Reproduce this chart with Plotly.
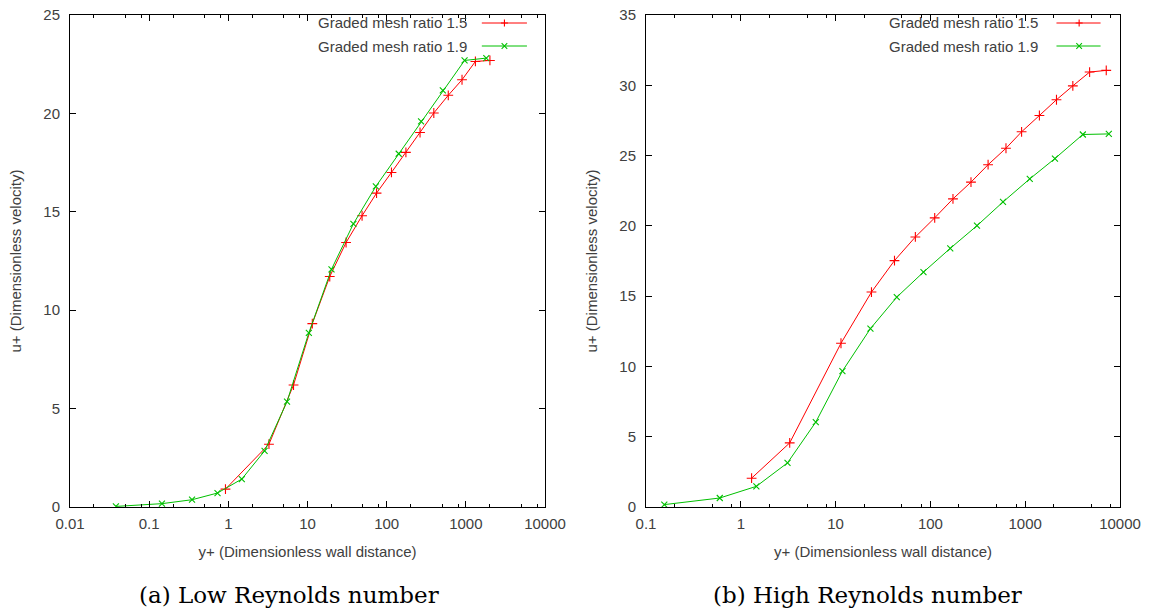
import plotly.graph_objects as go

# ---------------- data ----------------
# (a) Low Reynolds number
lo_r_x = [0.92, 3.26, 6.66, 11.5, 19.1, 30.7, 48.9, 74.5, 115, 175, 264, 394, 600, 895, 1321, 2015]
lo_r_y = [0.91, 3.19, 6.20, 9.32, 11.71, 13.44, 14.80, 15.95, 17.0, 18.02, 19.03, 20.02, 20.92, 21.71, 22.64, 22.69]
lo_g_x = [0.038, 0.145, 0.348, 0.73, 1.48, 2.87, 5.51, 10.4, 20.1, 38, 73, 142, 272, 512, 964, 1815]
lo_g_y = [0.03, 0.17, 0.37, 0.71, 1.42, 2.85, 5.35, 8.85, 12.08, 14.39, 16.29, 17.95, 19.59, 21.17, 22.69, 22.81]
# (b) High Reynolds number
hi_r_x = [1.30, 3.28, 11.4, 23.9, 41.8, 69.4, 111, 173, 268, 406, 627, 916, 1412, 2138, 3180, 4780, 7160]
hi_r_y = [2.05, 4.56, 11.65, 15.29, 17.53, 19.21, 20.57, 21.92, 23.11, 24.35, 25.52, 26.69, 27.85, 28.97, 29.96, 30.94, 31.06]
hi_g_x = [0.156, 0.60, 1.46, 3.11, 6.18, 11.8, 23.3, 44.2, 84.5, 162, 310, 583, 1117, 2060, 4055, 7620]
hi_g_y = [0.17, 0.64, 1.47, 3.14, 6.04, 9.67, 12.69, 14.93, 16.71, 18.40, 20.01, 21.70, 23.34, 24.79, 26.50, 26.54]

series_names = ["Graded mesh ratio 1.5", "Graded mesh ratio 1.9"]
captions = ["(a) Low Reynolds number", "(b) High Reynolds number"]
x_title = "y+ (Dimensionless wall distance)"
y_title = "u+ (Dimensionless velocity)"
x_ticks_lo = [0.01, 0.1, 1, 10, 100, 1000, 10000]
x_ticks_hi = [0.1, 1, 10, 100, 1000, 10000]

RED = "#ff0000"
GREEN = "#00c000"
TXT = "#404040"
SANS = "Liberation Sans, Arial, sans-serif"
FS = 15

W, H = 1152, 614
# plot frames in pixels
frames = [(70, 545, 15, 507), (646, 1120, 15, 507)]

fig = go.Figure()

def add_pair(rx, ry, gx, gy, xa, ya):
    fig.add_trace(go.Scatter(x=rx, y=ry, mode="lines+markers", xaxis=xa, yaxis=ya,
                             line=dict(color=RED, width=1),
                             marker=dict(symbol="cross-thin", size=7, line=dict(color=RED, width=1.1)),
                             showlegend=False))
    fig.add_trace(go.Scatter(x=gx, y=gy, mode="lines+markers", xaxis=xa, yaxis=ya,
                             line=dict(color=GREEN, width=1),
                             marker=dict(symbol="x-thin", size=6, line=dict(color=GREEN, width=1.1)),
                             showlegend=False))

add_pair(lo_r_x, lo_r_y, lo_g_x, lo_g_y, "x", "y")
add_pair(hi_r_x, hi_r_y, hi_g_x, hi_g_y, "x2", "y2")

def minor_vals(lo_exp, hi_exp):
    v = []
    for e in range(lo_exp, hi_exp):
        for m in (2, 5, 8):
            v.append(m * 10 ** e)
    return v

def xaxis(frame, rng, ticks, minors):
    x0, x1, y0, y1 = frame
    return dict(type="log", range=rng, domain=[x0 / W, x1 / W],
                tickmode="array", tickvals=ticks, ticktext=[("%g" % t) for t in ticks],
                ticks="inside", ticklen=6, tickwidth=1, tickcolor="#000",
                showline=True, linecolor="#000", linewidth=1, mirror="allticks",
                showgrid=False, zeroline=False,
                minor=dict(tickmode="array", tickvals=minors, ticks="inside", ticklen=3,
                           tickcolor="#000", tickwidth=1, showgrid=False),
                tickfont=dict(family=SANS, size=FS, color=TXT), ticklabelstandoff=3,
                title=dict(text=x_title, font=dict(family=SANS, size=FS, color=TXT), standoff=15),
                automargin=False)

def yaxis(frame, rng, anchor):
    x0, x1, y0, y1 = frame
    return dict(range=rng, domain=[1 - y1 / H, 1 - y0 / H], anchor=anchor,
                dtick=5, tick0=0,
                ticks="inside", ticklen=6, tickwidth=1, tickcolor="#000",
                showline=True, linecolor="#000", linewidth=1, mirror="allticks",
                showgrid=False, zeroline=False,
                tickfont=dict(family=SANS, size=FS, color=TXT), ticklabelstandoff=6,
                title=dict(text=y_title, font=dict(family=SANS, size=FS, color=TXT), standoff=18),
                automargin=False)

fig.update_layout(
    width=W, height=H, margin=dict(l=0, r=0, t=0, b=0),
    paper_bgcolor="white", plot_bgcolor="white",
    xaxis=xaxis(frames[0], [-2, 4], x_ticks_lo, minor_vals(-2, 4)),
    yaxis=yaxis(frames[0], [0, 25], "x"),
    xaxis2=dict(xaxis(frames[1], [-1, 4], x_ticks_hi, minor_vals(-1, 4)), anchor="y2"),
    yaxis2=yaxis(frames[1], [0, 35], "x2"),
)
fig.layout.xaxis.anchor = "y"

# manual gnuplot-style keys (text left of sample)
shapes = []
annotations = []
key_specs = [("x", "y", frames[0], 0.8406, 0.867, 0.962, 0.9146),
             ("x2", "y2", frames[1], 0.8315, 0.866, 0.959, 0.9138)]
row_px = [8.0, 31.0]   # key row centres below frame top, px
for xa, ya, fr, txt_x, l0, l1, mx in key_specs:
    pw = fr[1] - fr[0]
    ph = fr[3] - fr[2]
    dx = 3.5 / pw
    dy = 3.5 / ph
    for i, (name, col) in enumerate(zip(series_names, [RED, GREEN])):
        yy = 1 - row_px[i] / ph
        annotations.append(dict(text=name, xref=xa + " domain", yref=ya + " domain",
                                x=txt_x, y=yy, xanchor="right", yanchor="middle",
                                showarrow=False, font=dict(family=SANS, size=FS, color=TXT)))
        shapes.append(dict(type="line", xref=xa + " domain", yref=ya + " domain",
                           x0=l0, x1=l1, y0=yy, y1=yy, line=dict(color=col, width=1)))
        if i == 0:
            p = f"M{mx-dx},{yy} L{mx+dx},{yy} M{mx},{yy-dy} L{mx},{yy+dy}"
        else:
            k = 0.8
            p = f"M{mx-dx*k},{yy-dy*k} L{mx+dx*k},{yy+dy*k} M{mx-dx*k},{yy+dy*k} L{mx+dx*k},{yy-dy*k}"
        shapes.append(dict(type="path", xref=xa + " domain", yref=ya + " domain",
                           path=p, line=dict(color=col, width=1.1)))

for cap, cx in zip(captions, [289, 867]):
    annotations.append(dict(text=cap, xref="paper", yref="paper", x=cx / W, y=1 - 595 / H,
                            xanchor="center", yanchor="middle", showarrow=False,
                            font=dict(family="DejaVu Serif, serif", size=23, color="#000")))

fig.update_layout(shapes=shapes, annotations=annotations)
fig.write_html("out.html")
